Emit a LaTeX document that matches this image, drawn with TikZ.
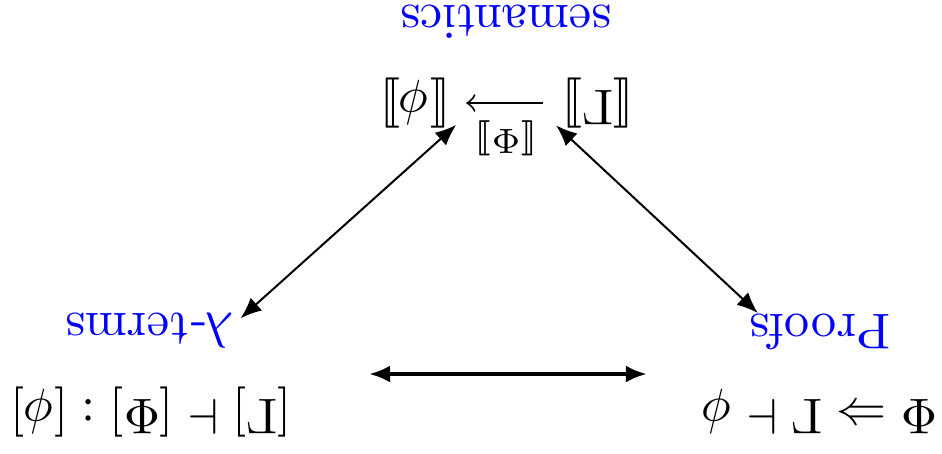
\documentclass[tikz,border=0pt]{standalone}
\usepackage{amsmath,amssymb,stmaryrd}
\usepackage{xcolor}
\usepackage{tikz}
\usetikzlibrary{arrows.meta}

\begin{document}
\begin{tikzpicture}[>={Latex[length=4.2pt,width=3.4pt]},rotate=180,transform shape,
  every node/.style={inner sep=1pt},lbl/.style={text=blue}]
\useasboundingbox (0,0) rectangle (6.594,3.171);
\node (prf) at (0.854,2.884) {$\Phi \Rightarrow \Gamma \vdash \phi$};
\node[lbl,inner sep=0pt] (prflbl) at (0.854,2.324) {Proofs};
\node (lam) at (5.537,2.884) {$[\Gamma] \vdash [\Phi] : [\phi]$};
\node[lbl] (lamlbl) at (5.544,2.317) {$\lambda$-terms};
\node (gam) at (2.408,0.721) {$\llbracket\Gamma\rrbracket$};
\node (phi) at (3.689,0.721) {$\llbracket\phi\rrbracket$};
\node[lbl] (sem) at (3.052,0.15) {semantics};
\coordinate (hl) at (2.065,2.618);
\coordinate (hr) at (4.011,2.618);
\draw[<->,line width=.8pt] (hl)--(hr);
\draw[<->,line width=.4pt] (prflbl.-17)--(gam.28);
\draw[<->,line width=.4pt] (lamlbl.188)--(phi.152);
\draw[-to,shorten <=2.5pt,shorten >=2pt] (gam)--(phi) node[midway,above,inner sep=.333em,font=\scriptsize] (phiname) {$\llbracket\Phi\rrbracket$};
\end{tikzpicture}
\end{document}
